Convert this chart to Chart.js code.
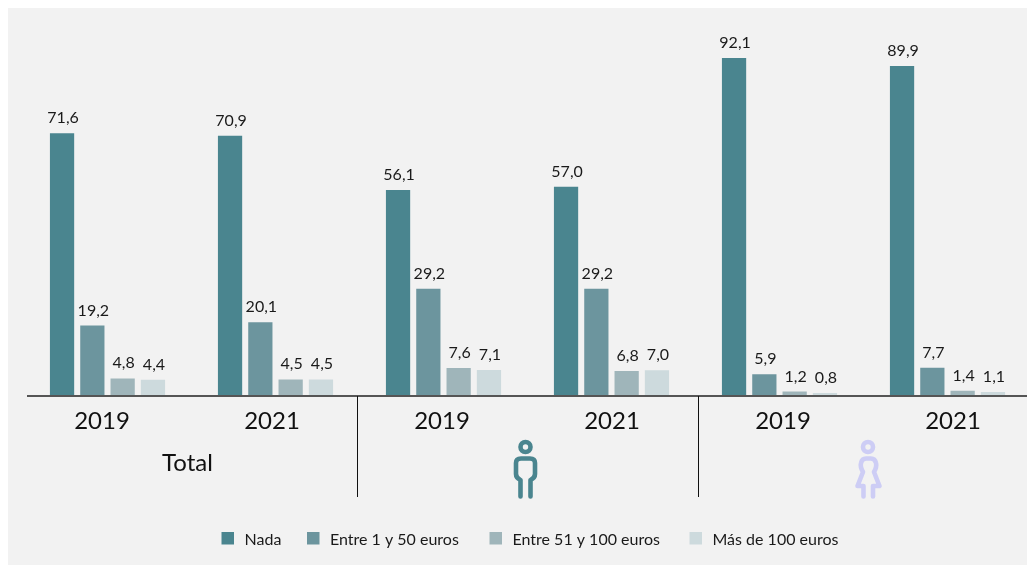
<!DOCTYPE html>
<html lang="es">
<head>
<meta charset="utf-8">
<title>Gasto por sexo</title>
<script src="https://cdn.jsdelivr.net/npm/chart.js@4"></script>
<style>
    html, body { margin: 0; height: 100%; background: #fff; overflow: hidden; }
    #panel { position: absolute; left: 8px; top: 8px; right: 0; bottom: 0; background: #f2f2f2; }
    #chart { position: absolute; left: 0; top: 0; }
</style>
</head>
<body>
<div id="panel"></div>
<canvas id="chart" width="1040" height="565"></canvas>
<script>
// Datos del grafico
const years = ['2019', '2021', '2019', '2021', '2019', '2021'];
const nada = [71.6, 70.9, 56.1, 57.0, 92.1, 89.9];
const entre1y50 = [19.2, 20.1, 29.2, 29.2, 5.9, 7.7];
const entre51y100 = [4.8, 4.5, 7.6, 6.8, 1.2, 1.4];
const masDe100 = [4.4, 4.5, 7.1, 7.0, 0.8, 1.1];
const seriesNames = ['Nada', 'Entre 1 y 50 euros', 'Entre 51 y 100 euros', 'Más de 100 euros'];
const seriesColors = ['#4a858f', '#6c959e', '#9fb5ba', '#cddadd'];

const FONT = 'Lato, "Open Sans", sans-serif';

function fmt(v) {
    return v.toFixed(1).replace('.', ',');
}

// Etiquetas encima de cada barra
function drawValueLabels(chart) {
    const ctx = chart.ctx;
    ctx.font = '16px ' + FONT;
    ctx.fillStyle = '#1a1a1a';
    ctx.textAlign = 'center';
    ctx.textBaseline = 'alphabetic';
    chart.data.datasets.forEach((ds, i) => {
        chart.getDatasetMeta(i).data.forEach((bar, j) => {
            ctx.fillText(fmt(ds.data[j]), bar.x + 1, bar.y - 10);
        });
    });
}

// Eje inferior: linea base, anos, separadores y Total
function drawAxis(chart) {
    const ctx = chart.ctx;
    const base = chart.scales.y.getPixelForValue(0);

    ctx.strokeStyle = '#555';
    ctx.lineWidth = 2;
    ctx.beginPath();
    ctx.moveTo(27, base);
    ctx.lineTo(1027, base);
    ctx.stroke();

    ctx.strokeStyle = '#111';
    ctx.lineWidth = 1;
    [357, 698].forEach(x => {
        ctx.beginPath();
        ctx.moveTo(x + 0.5, base);
        ctx.lineTo(x + 0.5, 497);
        ctx.stroke();
    });

    ctx.font = '24px ' + FONT;
    ctx.fillStyle = '#111';
    ctx.textAlign = 'center';
    ctx.textBaseline = 'alphabetic';
    const shift = [-5.5, -3.5, -1.5, 0.5, 3.5, 5.5];
    years.forEach((y, i) => {
        ctx.fillText(y, chart.scales.x.getPixelForValue(i) + shift[i], 429);
    });
    ctx.fillText('Total', 187.5, 471);
}

function drawHead(ctx, x) {
    ctx.beginPath();
    ctx.arc(x, 447, 5, 0, Math.PI * 2);
    ctx.stroke();
}

// Iconos de hombre y mujer
function drawIcons(chart) {
    const ctx = chart.ctx;
    ctx.save();
    ctx.lineWidth = 4.6;
    ctx.lineCap = 'round';
    ctx.lineJoin = 'round';

    ctx.strokeStyle = '#4a858f';
    drawHead(ctx, 525.5);
    ctx.beginPath();
    ctx.moveTo(520.5, 496.5);
    ctx.lineTo(520.5, 480);
    ctx.quadraticCurveTo(516, 478, 516, 474);
    ctx.lineTo(516, 463);
    ctx.quadraticCurveTo(516, 458.5, 521, 458.5);
    ctx.lineTo(530, 458.5);
    ctx.quadraticCurveTo(535, 458.5, 535, 463);
    ctx.lineTo(535, 474);
    ctx.quadraticCurveTo(535, 478, 530.5, 480);
    ctx.lineTo(530.5, 496.5);
    ctx.stroke();

    ctx.strokeStyle = '#cdcdf5';
    drawHead(ctx, 868);
    ctx.beginPath();
    ctx.moveTo(863.5, 496.5);
    ctx.lineTo(863.5, 486);
    ctx.lineTo(857.5, 486);
    ctx.lineTo(863, 472);
    ctx.quadraticCurveTo(860, 467, 861, 463);
    ctx.quadraticCurveTo(862, 458.5, 866, 458.5);
    ctx.lineTo(871, 458.5);
    ctx.quadraticCurveTo(875, 458.5, 876, 463);
    ctx.quadraticCurveTo(877, 467, 874, 472);
    ctx.lineTo(879.5, 486);
    ctx.lineTo(873, 486);
    ctx.lineTo(873, 496.5);
    ctx.stroke();
    ctx.restore();
}

// Leyenda
function drawLegend(chart) {
    const ctx = chart.ctx;
    const starts = [221.5, 307, 489.5, 689.5];
    ctx.font = '16px ' + FONT;
    ctx.textAlign = 'left';
    ctx.textBaseline = 'alphabetic';
    chart.data.datasets.forEach((ds, i) => {
        ctx.fillStyle = ds.backgroundColor;
        ctx.fillRect(starts[i], 532, 12.5, 12.5);
        ctx.fillStyle = '#1a1a1a';
        ctx.fillText(ds.label, starts[i] + 23, 544.5);
    });
}

const overlay = {
    id: 'overlay',
    afterDraw(chart) {
        const ctx = chart.ctx;
        ctx.save();
        drawValueLabels(chart);
        drawAxis(chart);
        drawIcons(chart);
        drawLegend(chart);
        ctx.restore();
    }
};

const seriesData = [nada, entre1y50, entre51y100, masDe100];

new Chart(document.getElementById('chart'), {
    type: 'bar',
    plugins: [overlay],
    data: {
        labels: years,
        datasets: seriesNames.map((name, i) => ({
            label: name,
            data: seriesData[i],
            backgroundColor: seriesColors[i],
            categoryPercentage: 0.7214,
            barPercentage: 0.8
        }))
    },
    options: {
        responsive: false,
        animation: false,
        layout: {
            padding: { left: 23.5, right: 8.5, top: 29, bottom: 169 }
        },
        plugins: {
            legend: { display: false },
            tooltip: { enabled: false }
        },
        scales: {
            x: { display: false },
            y: { display: false, min: 0, max: 100 }
        }
    }
});
</script>
</body>
</html>
